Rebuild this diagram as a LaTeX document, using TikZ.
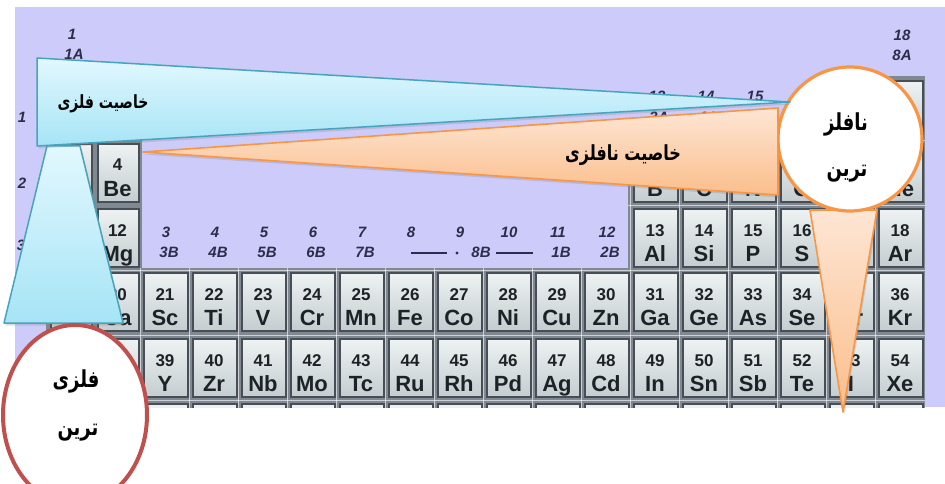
\documentclass[tikz,border=0pt]{standalone}
\usepackage{fontspec}
\setsansfont{Liberation Sans}
\newfontfamily\arabicfont[Script=Arabic]{DejaVu Sans}
\TeXXeTstate=1
\usetikzlibrary{shadows,shapes.geometric}
\definecolor{lav}{RGB}{205,203,249}
\definecolor{gapgray}{RGB}{128,136,146}
\definecolor{cellborder}{RGB}{72,78,86}
\definecolor{celltop}{RGB}{238,242,242}
\definecolor{cellbot}{RGB}{196,205,208}
\definecolor{celltext}{RGB}{28,34,38}
\definecolor{grptext}{RGB}{43,46,74}
\definecolor{cyanedge}{RGB}{70,165,190}
\definecolor{cyantop}{RGB}{226,248,254}
\definecolor{cyanbot}{RGB}{166,228,246}
\definecolor{orgedge}{RGB}{247,150,70}
\definecolor{orgtop}{RGB}{253,230,212}
\definecolor{orgbot}{RGB}{251,190,140}
\definecolor{rededge}{RGB}{192,80,77}
\newcommand\artext[1]{\scalebox{1}[1.3]{\beginR #1\endR}}
\tikzset{
  cellbox/.style={draw=cellborder, line width=1.8pt, top color=celltop, bottom color=cellbot, inner sep=0pt},
  numtxt/.style={font=\sffamily\bfseries\fontsize{17}{17}\selectfont, text=celltext, inner sep=0pt},
  symtxt/.style={font=\sffamily\bfseries\fontsize{22}{22}\selectfont, text=celltext, inner sep=0pt},
  grp/.style={font=\sffamily\bfseries\itshape\fontsize{15}{15}\selectfont, text=grptext, inner sep=0pt},
  cyanshape/.style={draw=cyanedge, line width=1.5pt, top color=cyantop, bottom color=cyanbot, line join=round,
     drop shadow={opacity=0.25, shadow xshift=1.5pt, shadow yshift=-2.5pt}},
  orgshape/.style={draw=orgedge, line width=1.6pt, top color=orgtop, bottom color=orgbot, line join=round,
     drop shadow={opacity=0.25, shadow xshift=1.5pt, shadow yshift=-2.5pt}},
  artxt/.style={font=\arabicfont\bfseries\fontsize{#1}{#1}\selectfont, text=black, inner sep=0pt},
  declare function={
    gx(\g) = (\g==1)*50 + (\g==2)*97 + (\g>2)*(143+(\g-3)*49);
    gw(\g) = (\g<3)*41 + (\g>2)*44;
    ry(\r) = (\r==1)*80 + (\r==2)*143 + (\r==3)*208 + (\r==4)*272 + (\r==5)*338 + (\r==6)*403;
  }
}
\begin{document}
\begin{tikzpicture}[x=1pt, y=-1pt]
\useasboundingbox (0,0) rectangle (945,484);
\fill[white] (0,0) rectangle (945,484);
\fill[lav] (15,7) rectangle (945,407);

\begin{scope}
\clip (15,7) rectangle (945,407);
% gray gap blocks
\fill[gapgray] (46,76) rectangle (95,412);
\fill[gapgray] (93,139) rectangle (142,412);
\fill[gapgray] (140,268) rectangle (925,412);
\fill[gapgray] (628,139) rectangle (925,271);
\fill[gapgray] (873,76) rectangle (925,141);
% light grid lines in the gaps
\foreach \yy in {270,335,400} \draw[white, opacity=0.6, line width=0.8pt] (46,\yy) -- (925,\yy);
\foreach \yy in {140.5,205.5} \draw[white, opacity=0.6, line width=0.8pt] (628,\yy) -- (925,\yy);
\foreach \xx in {140.5,189.5,238.5,287.5,336.5,385.5,434.5,483.5,532.5,581.5} \draw[white, opacity=0.6, line width=0.8pt] (\xx,268) -- (\xx,410);
\foreach \xx in {630.5,679.5,728.5,777.5,826.5,875.5} \draw[white, opacity=0.6, line width=0.8pt] (\xx,139) -- (\xx,410);
% element cells
\foreach \g/\r/\n/\s in {1/1/1/H, 18/1/2/He,
  1/2/3/Li, 2/2/4/Be, 13/2/5/B, 14/2/6/C, 15/2/7/N, 16/2/8/O, 17/2/9/F, 18/2/10/Ne,
  1/3/11/Na, 2/3/12/Mg, 13/3/13/Al, 14/3/14/Si, 15/3/15/P, 16/3/16/S, 17/3/17/Cl, 18/3/18/Ar,
  1/4/19/K, 2/4/20/Ca, 3/4/21/Sc, 4/4/22/Ti, 5/4/23/V, 6/4/24/Cr, 7/4/25/Mn, 8/4/26/Fe, 9/4/27/Co,
  10/4/28/Ni, 11/4/29/Cu, 12/4/30/Zn, 13/4/31/Ga, 14/4/32/Ge, 15/4/33/As, 16/4/34/Se, 17/4/35/Br, 18/4/36/Kr,
  1/5/37/Rb, 2/5/38/Sr, 3/5/39/Y, 4/5/40/Zr, 5/5/41/Nb, 6/5/42/Mo, 7/5/43/Tc, 8/5/44/Ru, 9/5/45/Rh,
  10/5/46/Pd, 11/5/47/Ag, 12/5/48/Cd, 13/5/49/In, 14/5/50/Sn, 15/5/51/Sb, 16/5/52/Te, 17/5/53/I, 18/5/54/Xe}{
  \pgfmathsetmacro\xa{gx(\g)}
  \pgfmathsetmacro\w{gw(\g)}
  \pgfmathsetmacro\ya{ry(\r)}
  \node[cellbox, minimum width=\w pt, minimum height=58pt, anchor=north west] (e\n) at (\xa,\ya) {};
  \node[numtxt, anchor=base] (n\n) at (\xa+\w/2,\ya+28) {\n};
  \node[symtxt, anchor=base] (s\n) at (\xa+\w/2,\ya+53) {\s};
}
% row 6 (cut off)
\foreach \g in {1,...,18}{
  \pgfmathsetmacro\xa{gx(\g)}
  \pgfmathsetmacro\w{gw(\g)}
  \node[cellbox, minimum width=\w pt, minimum height=58pt, anchor=north west] (r6c\g) at (\xa,403) {};
}
\end{scope}

% group labels
\node[grp] (g1a) at (72,34) {1};
\node[grp] (g1b) at (74,54) {1A};
\node[grp] (g2a) at (117,98) {2};
\node[grp] (g2b) at (119,118) {2A};
\foreach \g/\b in {3/3B,4/4B,5/5B,6/6B,7/7B,11/1B,12/2B}{
  \pgfmathsetmacro\xc{gx(\g)+23}
  \node[grp] (gn\g) at (\xc,232) {\g};
  \node[grp] (gb\g) at (\xc+3,252) {\b};
}
\foreach \g in {8,9,10}{
  \pgfmathsetmacro\xc{gx(\g)+23}
  \node[grp] (gn\g) at (\xc,232) {\g};
}
\node[grp] (g8b) at (481,252) {8B};
\draw[grptext, line width=1.6pt] (411,253) -- (447,253);
\draw[grptext, line width=1.6pt] (496,253) -- (533,253);
\fill[grptext] (457,253) circle (1.6);
\foreach \g/\b in {13/3A,14/4A,15/5A,16/6A,17/7A}{
  \pgfmathsetmacro\xc{gx(\g)+24}
  \node[grp] (gn\g) at (\xc,96) {\g};
  \node[grp] (gb\g) at (\xc+2,117) {\b};
}
\node[grp] (g18a) at (902,35) {18};
\node[grp] (g18b) at (902,55) {8A};
% period numbers
\node[grp] (p1) at (22,117) {1};
\node[grp] (p2) at (22,183) {2};
\node[grp] (p3) at (21,245) {3};
\node[grp] (p4) at (21,305) {4};
\node[grp] (p5) at (21,370) {5};

% metal callout pointer (cyan trapezoid)
\path[cyanshape] (47,146) -- (80,146) -- (123,323) -- (4,323) -- cycle;
% most metallic ellipse
\node[draw=rededge, line width=4pt, fill=white, ellipse, minimum width=144pt, minimum height=180pt] (metal) at (75,415) {};
\node[artxt=18] (metal1) at (76,381) {\artext{فلزی}};
\node[artxt=18] (metal2) at (78,433) {\artext{ترین}};

% nonmetal pointer cone
\path[orgshape] (810,210) -- (877,210) -- (843,412) -- cycle;
% most nonmetallic circle
\node[draw=orgedge, line width=3.2pt, fill=white, circle, minimum size=144pt, inner sep=0pt] (nonmetal) at (850,139) {};
\node[artxt=18] (nm1) at (846,124) {\artext{نافلز}};
\node[artxt=18] (nm2) at (847,174) {\artext{ترین}};

% metallic property wedge
\path[cyanshape] (37,58) -- (790,102) -- (37,146) -- cycle;
\node[artxt=14] (mprop) at (103,104) {\artext{خاصیت فلزی}};
% nonmetallic property wedge
\path[orgshape] (143,152) -- (778,108) -- (778,195) -- cycle;
\node[artxt=16] (nmprop) at (623,155) {\artext{خاصیت نافلزی}};
\end{tikzpicture}
\end{document}
